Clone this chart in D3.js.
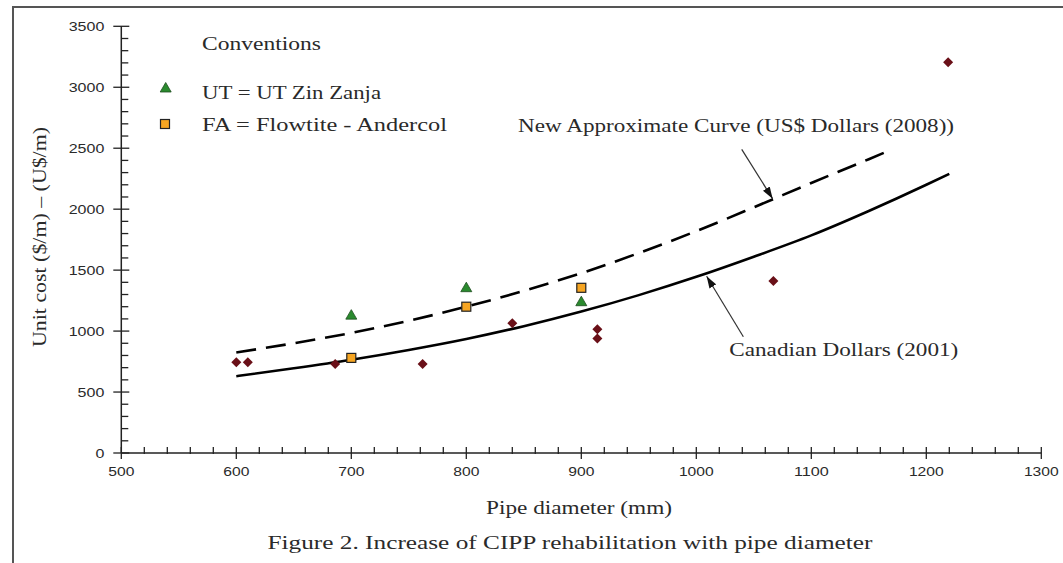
<!DOCTYPE html>
<html>
<head>
<meta charset="utf-8">
<script src="https://cdn.jsdelivr.net/npm/d3@7"></script>
<style>
  html, body { margin: 0; padding: 0; background: #fff; }
  svg { display: block; }
</style>
</head>
<body>
<svg id="chart" width="1063" height="563"></svg>
<script>
// ---- Data ----
const otherX = [600, 610, 686, 762, 840, 914, 914, 1067, 1219];
const otherY = [745, 745, 730, 730, 1065, 1015, 940, 1410, 3205];
const utX = [700, 800, 900];
const utY = [1135, 1360, 1245];
const faX = [700, 800, 900];
const faY = [780, 1200, 1355];
const canadaX = [600, 650, 700, 750, 800, 850, 900, 950, 1000, 1050, 1100, 1150, 1200, 1220];
const canadaY = [630, 695, 765, 845, 935, 1040, 1160, 1295, 1445, 1610, 1785, 1985, 2200, 2290];
const usX = [600, 650, 700, 750, 800, 850, 900, 950, 1000, 1050, 1100, 1150, 1170];
const usY = [825, 900, 985, 1085, 1200, 1330, 1475, 1640, 1820, 2015, 2215, 2410, 2490];
const xMajorTicks = [500, 600, 700, 800, 900, 1000, 1100, 1200, 1300];
const yMajorTicks = [0, 500, 1000, 1500, 2000, 2500, 3000, 3500];
const legendLabels = ["Conventions", "UT = UT Zin Zanja", "FA = Flowtite - Andercol"];
const usLabel = "New Approximate Curve (US$ Dollars (2008))";
const canadaLabel = "Canadian Dollars (2001)";
const xTitle = "Pipe diameter (mm)";
const yTitle = "Unit cost ($/m) \u2013 (U$/m)";
const caption = "Figure 2. Increase of CIPP rehabilitation with pipe diameter";

const svg = d3.select("#chart");
const W = 1063, H = 563;
const x = d3.scaleLinear().domain([500, 1300]).range([121.3, 1041.3]);
const y = d3.scaleLinear().domain([0, 3500]).range([453, 26.3]);
const serif = "'Liberation Serif', 'Times New Roman', serif";
const sans = "'Liberation Sans', Arial, sans-serif";
const textColor = "#2a2a2a";

svg.append("rect").attr("width", W).attr("height", H).attr("fill", "#fff");
// frame (left and top edges visible)
svg.append("path").attr("d", `M13,${H} L13,7 L${W},7`).attr("fill", "none")
  .attr("stroke", "#555").attr("stroke-width", 2);

// ---- Axes ----
const axisColor = "#222";
const xMinor = d3.range(500, 1301, 20).filter(v => v % 100 !== 0);
const yMinor = d3.range(0, 3501, 100).filter(v => v % 500 !== 0);
const ax = svg.append("g");
ax.append("line").attr("x1", x(500)).attr("x2", x(1300)).attr("y1", y(0)).attr("y2", y(0))
  .attr("stroke", axisColor).attr("stroke-width", 1.5);
ax.append("line").attr("x1", x(500)).attr("x2", x(500)).attr("y1", y(0)).attr("y2", y(3500))
  .attr("stroke", axisColor).attr("stroke-width", 1.5);
ax.selectAll(".xmaj").data(xMajorTicks).join("line")
  .attr("x1", d => x(d)).attr("x2", d => x(d)).attr("y1", y(0) - 6).attr("y2", y(0) + 6)
  .attr("stroke", axisColor).attr("stroke-width", 1.3);
ax.selectAll(".xmin").data(xMinor).join("line")
  .attr("x1", d => x(d)).attr("x2", d => x(d)).attr("y1", y(0) - 6).attr("y2", y(0) + 1)
  .attr("stroke", axisColor).attr("stroke-width", 1.3);
ax.selectAll(".ymaj").data(yMajorTicks).join("line")
  .attr("x1", x(500) - 8).attr("x2", x(500) + 8).attr("y1", d => y(d)).attr("y2", d => y(d))
  .attr("stroke", axisColor).attr("stroke-width", 1.3);
ax.selectAll(".ymin").data(yMinor).join("line")
  .attr("x1", x(500)).attr("x2", x(500) + 7).attr("y1", d => y(d)).attr("y2", d => y(d))
  .attr("stroke", axisColor).attr("stroke-width", 1.3);

ax.selectAll(".xl").data(xMajorTicks).join("text")
  .attr("x", d => x(d)).attr("y", y(0) + 23)
  .attr("text-anchor", "middle").attr("font-family", sans).attr("font-size", 12.5)
  .attr("fill", textColor)
  .attr("textLength", d => String(d).length * 8.7).attr("lengthAdjust", "spacingAndGlyphs")
  .text(d => d);
ax.selectAll(".yl").data(yMajorTicks).join("text")
  .attr("x", x(500) - 17).attr("y", d => y(d) + 4.5)
  .attr("text-anchor", "end").attr("font-family", sans).attr("font-size", 12.5)
  .attr("fill", textColor)
  .attr("textLength", d => String(d).length * 8.9).attr("lengthAdjust", "spacingAndGlyphs")
  .text(d => d);

// axis titles
svg.append("text").attr("x", 579).attr("y", 514).attr("text-anchor", "middle")
  .attr("font-family", serif).attr("font-size", 18).attr("fill", textColor)
  .attr("textLength", 186).attr("lengthAdjust", "spacingAndGlyphs").text(xTitle);
svg.append("text").attr("transform", "translate(46,237) rotate(-90)").attr("text-anchor", "middle")
  .attr("font-family", serif).attr("font-size", 18).attr("fill", textColor)
  .attr("textLength", 220).attr("lengthAdjust", "spacingAndGlyphs").text(yTitle);
svg.append("text").attr("x", 570).attr("y", 549).attr("text-anchor", "middle")
  .attr("font-family", serif).attr("font-size", 18).attr("fill", textColor)
  .attr("textLength", 605).attr("lengthAdjust", "spacingAndGlyphs").text(caption);

// ---- Curves ----
const lineGen = d3.line().x(d => x(d[0])).y(d => y(d[1])).curve(d3.curveMonotoneX);
svg.append("path").datum(canadaX.map((v, i) => [v, canadaY[i]]))
  .attr("d", lineGen).attr("fill", "none").attr("stroke", "#000").attr("stroke-width", 2.6);
svg.append("path").datum(usX.map((v, i) => [v, usY[i]]))
  .attr("d", lineGen).attr("fill", "none").attr("stroke", "#000").attr("stroke-width", 2.6)
  .attr("stroke-dasharray", "20,10");

// ---- Markers ----
function diamond(cx, cy) { return `M${cx},${cy - 5} L${cx + 5},${cy} L${cx},${cy + 5} L${cx - 5},${cy} Z`; }
function triangle(cx, cy) { return `M${cx},${cy - 5} L${cx + 5.5},${cy + 4.5} L${cx - 5.5},${cy + 4.5} Z`; }
svg.append("g").selectAll("path").data(otherX.map((v, i) => [v, otherY[i]])).join("path")
  .attr("d", d => diamond(x(d[0]), y(d[1]))).attr("fill", "#6a1018");
svg.append("g").selectAll("path").data(utX.map((v, i) => [v, utY[i]])).join("path")
  .attr("d", d => triangle(x(d[0]), y(d[1]))).attr("fill", "#2a8a2e").attr("stroke", "#1d4d1e").attr("stroke-width", 0.8);
svg.append("g").selectAll("rect").data(faX.map((v, i) => [v, faY[i]])).join("rect")
  .attr("x", d => x(d[0]) - 4.5).attr("y", d => y(d[1]) - 4.5).attr("width", 9).attr("height", 9)
  .attr("fill", "#f6a522").attr("stroke", "#222").attr("stroke-width", 1.2);

// ---- Legend ----
const lg = svg.append("g");
lg.append("text").attr("x", 202).attr("y", 50).attr("font-family", serif).attr("font-size", 18)
  .attr("fill", textColor).attr("textLength", 119).attr("lengthAdjust", "spacingAndGlyphs").text(legendLabels[0]);
lg.append("path").attr("d", triangle(165.7, 87.5)).attr("fill", "#2a8a2e").attr("stroke", "#1d4d1e").attr("stroke-width", 0.8);
lg.append("text").attr("x", 202).attr("y", 99).attr("font-family", serif).attr("font-size", 18)
  .attr("fill", textColor).attr("textLength", 179).attr("lengthAdjust", "spacingAndGlyphs").text(legendLabels[1]);
lg.append("rect").attr("x", 160.5).attr("y", 119.5).attr("width", 9).attr("height", 9)
  .attr("fill", "#f6a522").attr("stroke", "#222").attr("stroke-width", 1.2);
lg.append("text").attr("x", 202).attr("y", 131).attr("font-family", serif).attr("font-size", 18)
  .attr("fill", textColor).attr("textLength", 245).attr("lengthAdjust", "spacingAndGlyphs").text(legendLabels[2]);

// ---- Annotations ----
const defs = svg.append("defs");
defs.append("marker").attr("id", "arr").attr("viewBox", "0 0 12 8").attr("refX", 12).attr("refY", 4)
  .attr("markerWidth", 12).attr("markerHeight", 8).attr("markerUnits", "userSpaceOnUse")
  .attr("orient", "auto")
  .append("path").attr("d", "M0,0 L12,4 L0,8 Z").attr("fill", "#111");

const annUs = { tailX: 1039.5, tailY: 2491, tipX: 1066.4, tipY: 2085, textX: 845, textY: 2636 };
const annCa = { tailX: 1040.9, tailY: 954, tipX: 1009, tipY: 1450, textX: 1028.7, textY: 795 };
[annUs, annCa].forEach(a => {
  svg.append("line").attr("x1", x(a.tailX)).attr("y1", y(a.tailY)).attr("x2", x(a.tipX)).attr("y2", y(a.tipY))
    .attr("stroke", "#333").attr("stroke-width", 1.2).attr("marker-end", "url(#arr)");
});
svg.append("text").attr("x", x(annUs.textX)).attr("y", y(annUs.textY)).attr("font-family", serif)
  .attr("font-size", 18).attr("fill", textColor).attr("textLength", 436).attr("lengthAdjust", "spacingAndGlyphs")
  .text(usLabel);
svg.append("text").attr("x", x(annCa.textX)).attr("y", y(annCa.textY)).attr("font-family", serif)
  .attr("font-size", 18).attr("fill", textColor).attr("textLength", 229).attr("lengthAdjust", "spacingAndGlyphs")
  .text(canadaLabel);
</script>
</body>
</html>
